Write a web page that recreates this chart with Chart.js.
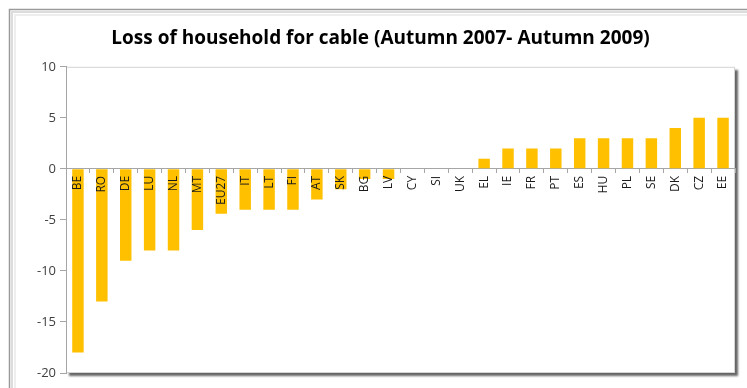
<!DOCTYPE html>
<html>
<head>
<meta charset="utf-8">
<script src="https://cdn.jsdelivr.net/npm/chart.js@4"></script>
<style>
  body { margin: 0; background: #fff; }
</style>
</head>
<body>
<canvas id="cableChart" width="747" height="388"></canvas>
<script>
const countries = ['BE', 'RO', 'DE', 'LU', 'NL', 'MT', 'EU27', 'IT', 'LT', 'FI', 'AT', 'SK', 'BG', 'LV',
  'CY', 'SI', 'UK', 'EL', 'IE', 'FR', 'PT', 'ES', 'HU', 'PL', 'SE', 'DK', 'CZ', 'EE'];
const lossValues = [-18, -13, -9, -8, -8, -6, -4.4, -4, -4, -4, -3, -2, -1, -1,
  0, 0, 0, 1, 2, 2, 2, 3, 3, 3, 3, 4, 5, 5];
const yTicks = [10, 5, 0, -5, -10, -15, -20];

// bevelled outer frame + plot area with drop shadow
const frames = {
  id: 'frames',
  beforeDraw(chart) {
    const { ctx, chartArea: { left, top, right, bottom } } = chart;
    ctx.save();
    ctx.lineWidth = 1.5;
    ctx.strokeStyle = '#9a9a9a';
    ctx.strokeRect(9.5, 9.5, 780, 420);
    ctx.lineWidth = 2;
    ctx.strokeStyle = '#dcdcdc';
    ctx.strokeRect(12, 12, 780, 420);
    ctx.strokeStyle = '#eeeeee';
    ctx.strokeRect(15, 15, 780, 420);

    ctx.shadowColor = 'rgba(0,0,0,0.6)';
    ctx.shadowOffsetX = 3;
    ctx.shadowOffsetY = 3;
    ctx.shadowBlur = 2;
    ctx.fillStyle = '#fff';
    ctx.fillRect(left, top, right - left, bottom - top);
    ctx.shadowColor = 'transparent';
    ctx.lineWidth = 1;
    ctx.strokeStyle = '#d4d4d4';
    ctx.strokeRect(left + 0.5, top + 0.5, right - left - 1, bottom - top - 1);
    ctx.restore();
  }
};

new Chart(document.getElementById('cableChart'), {
  type: 'bar',
  data: {
    labels: countries,
    datasets: [{
      label: 'Loss of household for cable',
      data: lossValues,
      backgroundColor: '#ffc000',
      categoryPercentage: 1,
      barPercentage: 0.48
    }]
  },
  options: {
    responsive: false,
    animation: false,
    layout: { padding: { left: 26, right: 12, top: 0, bottom: 15 } },
    plugins: {
      legend: { display: false },
      tooltip: { enabled: false },
      title: {
        display: true,
        text: 'Loss of household for cable (Autumn 2007- Autumn 2009)',
        color: '#000',
        font: { family: 'Open Sans', size: 19, weight: 'bold' },
        padding: { top: 27, bottom: 17 }
      }
    },
    scales: {
      x: {
        position: { y: 0 },
        grid: { drawOnChartArea: false, offset: true, tickLength: 4, color: '#a6a6a6' },
        border: { color: '#a6a6a6' },
        ticks: {
          z: 1, // country codes sit on top of the bars
          autoSkip: false,
          minRotation: 90,
          maxRotation: 90,
          padding: 3,
          color: '#1a1a1a',
          font: { family: 'Open Sans', size: 12 }
        }
      },
      y: {
        min: -20,
        max: 10,
        afterFit(scale) { scale.width = 40; },
        afterBuildTicks(scale) { scale.ticks = yTicks.map(v => ({ value: v })); },
        grid: { drawOnChartArea: false, tickLength: 6, color: '#a6a6a6' },
        border: { color: '#a6a6a6' },
        ticks: {
          padding: 4,
          color: '#404040',
          font: { family: 'Open Sans', size: 13 }
        }
      }
    }
  },
  plugins: [frames]
});
</script>
</body>
</html>
